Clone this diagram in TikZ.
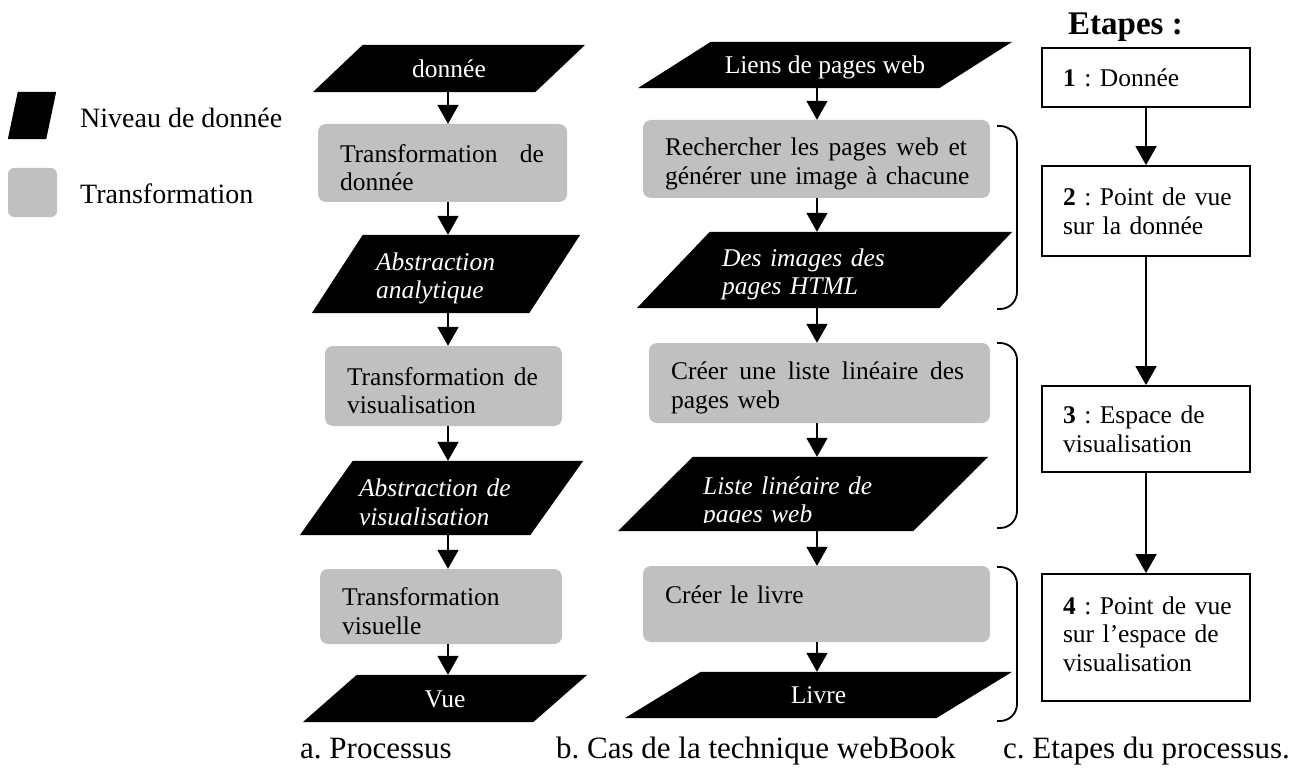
\documentclass[tikz,border=0pt]{standalone}
\usepackage{fontspec}
\setmainfont{Liberation Serif}
\usetikzlibrary{arrows.meta,backgrounds}
\definecolor{boxgray}{RGB}{192,192,192}
\newcommand{\mybodyfont}{\fontsize{25.5}{28.8}\selectfont}
\newcommand{\mylegfont}{\fontsize{28}{32}\selectfont}
\newcommand{\mycapfont}{\fontsize{31}{36}\selectfont}
\begin{document}
\frenchspacing
\begin{tikzpicture}[x=1pt,y=-1pt,
  datashape/.style={inner sep=0pt, text=white, font=\mybodyfont},
  dataone/.style={datashape, text height=17.4pt, text depth=0pt},
  datamulti/.style={datashape, align=left, text width=#1, text height=26.4pt, font=\mybodyfont\itshape},
  transbox/.style={fill=boxgray, rounded corners=8pt, inner xsep=22pt, inner ysep=0pt, align=left, text height=27.4pt, font=\mybodyfont},
  stepbox/.style={draw=black, line width=1.8pt, fill=white, inner xsep=21pt, inner ysep=0pt, align=left, text width=166pt, minimum width=208pt, font=\mybodyfont},
  plaintext/.style={inner sep=0pt, anchor=base west},
  arr/.style={line width=1.8pt, -{Triangle[length=19pt,width=21pt]}},
  bracket/.style={line width=1.8pt, rounded corners=17pt},
]
\useasboundingbox (0,0) rectangle (1302,773);

% legend
\node[dataone, minimum width=48pt, minimum height=47pt] (L1) at (32,115.5) {};
\node[fill=boxgray, rounded corners=6pt, minimum width=49pt, minimum height=49pt, inner sep=0pt] (L2) at (32.5,192.5) {};
\node[plaintext, font=\mylegfont] (L1t) at (80,128) {Niveau de donnée};
\node[plaintext, font=\mylegfont] (L2t) at (80,204) {Transformation};

% column a
\node[dataone, minimum width=272pt, minimum height=47pt] (A1) at (449,68.5) {donnée};
\node[transbox, text width=205pt, minimum width=249pt, minimum height=78pt] (A2) at (442.5,163) {\makebox[204pt]{Transformation\hfill de}\\donnée};
\node[datamulti=140pt, minimum width=268pt, minimum height=78pt] (A3) at (446,274) {Abstraction\\analytique};
\node[transbox, text width=193pt, minimum width=237pt, minimum height=80pt] (A4) at (443.5,386) {\makebox[191pt]{Transformation\hfill de}\\visualisation};
\node[datamulti=165pt, minimum width=283pt, minimum height=74pt] (A5) at (441.5,498) {Abstraction de\\visualisation};
\node[transbox, text width=198pt, minimum width=242pt, minimum height=75pt] (A6) at (441,606.5) {Transformation\\visuelle};
\node[dataone, minimum width=284pt, minimum height=47pt] (A7) at (445,698.5) {Vue};

% column b
\node[dataone, minimum width=374pt, minimum height=46pt] (B1) at (825,65) {Liens de pages web};
\node[transbox, text width=303pt, minimum width=347pt, minimum height=78pt] (B2) at (816.5,159) {\makebox[302pt]{Rechercher\hfill les\hfill pages\hfill web\hfill et}\\\mbox{générer une image à chacune}};
\node[datamulti=205pt, minimum width=375pt, minimum height=76pt] (B3) at (824.5,270) {Des images des\\pages HTML};
\node[transbox, text width=297pt, minimum width=341pt, minimum height=80pt] (B4) at (819.5,383) {\makebox[293pt]{Créer\hfill une\hfill liste\hfill linéaire\hfill des}\\pages web};
\node[datashape, minimum width=370pt, minimum height=74pt] (B5) at (803,494) {};
\begin{scope}
  \clip (690,440) rectangle (1000,522);
  \node[datashape, font=\mybodyfont\itshape, align=left, text width=200pt, anchor=base west] (B5t) at (703,494) {Liste linéaire de\\pages web};
\end{scope}
\node[transbox, text width=303pt, minimum width=347pt, minimum height=76pt] (B6) at (816.5,604) {Créer le livre\\\mbox{}};
\node[dataone, minimum width=387pt, minimum height=46pt] (B7) at (818.5,695) {Livre};

% column c
\node[inner sep=0pt, anchor=base, font=\fontsize{33}{38}\selectfont\bfseries] (Ct) at (1125.5,35) {Etapes :};
\node[stepbox, minimum height=59pt] (C1) at (1146,77.5) {\textbf{1} : Donnée};
\node[stepbox, minimum height=90pt] (C2) at (1146,211) {\mbox{\textbf{2} : Point de vue}\\sur la donnée};
\node[stepbox, minimum height=86pt] (C3) at (1146,429) {\mbox{\textbf{3} : Espace de}\\visualisation};
\node[stepbox, minimum height=127pt, text height=11pt] (C4) at (1146,637.5) {\mbox{\textbf{4} : Point de vue}\\\mbox{sur l’espace de}\\visualisation};

% captions
\node[plaintext, font=\mycapfont] (capA) at (300,758) {a. Processus};
\node[plaintext, font=\mycapfont] (capB) at (556,758) {b. Cas de la technique webBook};
\node[plaintext, font=\mycapfont] (capC) at (1003,758) {c. Etapes du processus.};

% arrows
\coordinate (colA) at (448,0);
\coordinate (colB) at (817,0);
\foreach \u/\v in {A1/A2,A2/A3,A3/A4,A4/A5,A5/A6,A6/A7}
  \draw[arr] (\u.south -| colA) -- (\v.north -| colA);
\foreach \u/\v in {B1/B2,B2/B3,B3/B4,B4/B5,B5/B6,B6/B7}
  \draw[arr] (\u.south -| colB) -- (\v.north -| colB);
\foreach \u/\v in {C1/C2,C2/C3,C3/C4}
  \draw[arr] (\u) -- (\v);

% brackets
\draw[bracket] (997,126) -- (1017,126) -- (1017,309) -- (997,309);
\draw[bracket] (997,343) -- (1017,343) -- (1017,528) -- (997,528);
\draw[bracket] (997,567) -- (1017,567) -- (1017,721) -- (997,721);

% parallelogram fills
\begin{pgfonlayer}{background}
  \foreach \n/\s in {L1/10,A1/50,A3/51,A5/53,A7/54,B1/73,B3/73,B5/75,B7/76}
    \fill[black] (\n.south west) -- ([xshift=\s pt]\n.north west) -- (\n.north east) -- ([xshift=-\s pt]\n.south east) -- cycle;
\end{pgfonlayer}
\end{tikzpicture}
\end{document}
